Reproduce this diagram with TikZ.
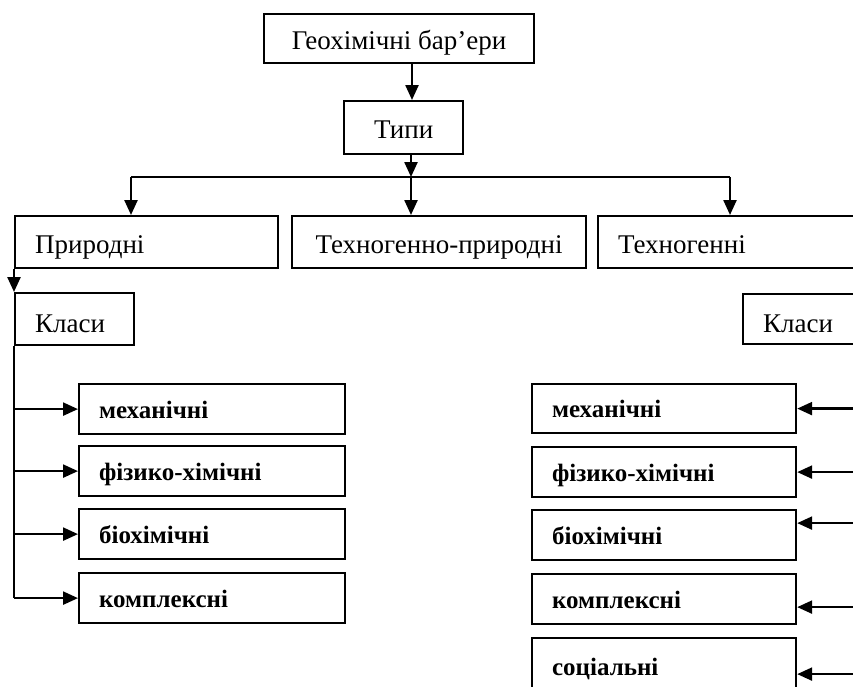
\documentclass[tikz,border=0pt]{standalone}
\usepackage{fontspec}
\setmainfont{Liberation Serif}
\usetikzlibrary{arrows.meta}
\begin{document}
\begin{tikzpicture}[x=1pt,y=-1pt,
  box/.style={draw, line width=2.2pt, rectangle, anchor=north west, inner ysep=0pt,
    font=\fontsize{27}{29}\selectfont, text height=22pt, text depth=0pt},
  cbox/.style={box, inner xsep=0pt},
  lbox/.style={box, inner xsep=20pt, align=left},
  cls/.style={lbox, font=\fontsize{25}{28}\selectfont\bfseries, text height=18pt},
  conn/.style={line width=2.4pt, -{Triangle[length=15pt,width=13pt]}},
  bus/.style={line width=2.4pt}]
\useasboundingbox (0,0) rectangle (853,686);
\clip (0,0) rectangle (853,686);

% top
\node[cbox, minimum width=270pt, minimum height=49pt] (geo) at (263,13) {Геохімічні бар’ери};
\node[cbox, minimum width=119pt, minimum height=53pt] (types) at (343,100) {Типи};

% types row
\node[lbox, text width=223pt, minimum height=52pt] (pryr) at (14,215) {Природні};
\node[cbox, minimum width=294pt, minimum height=52pt] (tekhpr) at (291,215) {Техногенно-природні};
\node[lbox, text width=260pt, minimum height=52pt] (tekh) at (597,215) {Техногенні};

% classes
\node[lbox, text width=79pt, minimum height=52pt, text height=26pt] (klasL) at (14,292) {Класи};
\node[lbox, text width=110pt, minimum height=50pt, text height=26pt] (klasR) at (742,293) {Класи};

% left classes
\node[cls, text width=226pt, minimum height=50pt] (mL1) at (78,383) {механічні};
\node[cls, text width=226pt, minimum height=50pt] (mL2) at (78,445) {фізико-хімічні};
\node[cls, text width=226pt, minimum height=50pt] (mL3) at (78,508) {біохімічні};
\node[cls, text width=226pt, minimum height=50pt] (mL4) at (78,572) {комплексні};

% right classes
\node[cls, text width=224pt, minimum height=49pt] (mR1) at (531,383) {механічні};
\node[cls, text width=224pt, minimum height=50pt] (mR2) at (531,446) {фізико-хімічні};
\node[cls, text width=224pt, minimum height=50pt] (mR3) at (531,509) {біохімічні};
\node[cls, text width=224pt, minimum height=50pt] (mR4) at (531,573) {комплексні};
\node[cls, text width=224pt, minimum height=52pt, text height=22pt] (mR5) at (531,637) {соціальні};

% connectors top
\coordinate (busC) at (411,177);
\coordinate (busL) at (131,177);
\coordinate (busR) at (730,177);
\draw[conn] (412,0 |- geo.south) -- (412,0 |- types.north);
\draw[conn] (busC |- types.south) -- (busC);
\draw[bus] (busL) -- (busR);
\draw[conn] (busL) -- (busL |- pryr.north);
\draw[conn] (busC) -- (busC |- tekhpr.north);
\draw[conn] (busR) -- (busR |- tekh.north);

% left side
\draw[conn] (pryr.south west) -- (klasL.north west);
\draw[bus] (klasL.south west) -- (klasL.south west |- mL4.west);
\foreach \n in {mL1,mL2,mL3,mL4}
  \draw[conn] (klasL.south west |- \n.west) -- (\n.west);

% right side
\coordinate (redge) at (875,400);
\coordinate (t1) at (mR1.east);
\coordinate (t2) at (mR2.east);
\coordinate (t3) at ([yshift=12pt]mR3.east);
\coordinate (t4) at ([yshift=-8pt]mR4.east);
\coordinate (t5) at ([yshift=-10pt]mR5.east);
\foreach \t in {t1,t2,t3,t4,t5}
  \draw[conn] (redge |- \t) -- (\t);
\end{tikzpicture}
\end{document}
